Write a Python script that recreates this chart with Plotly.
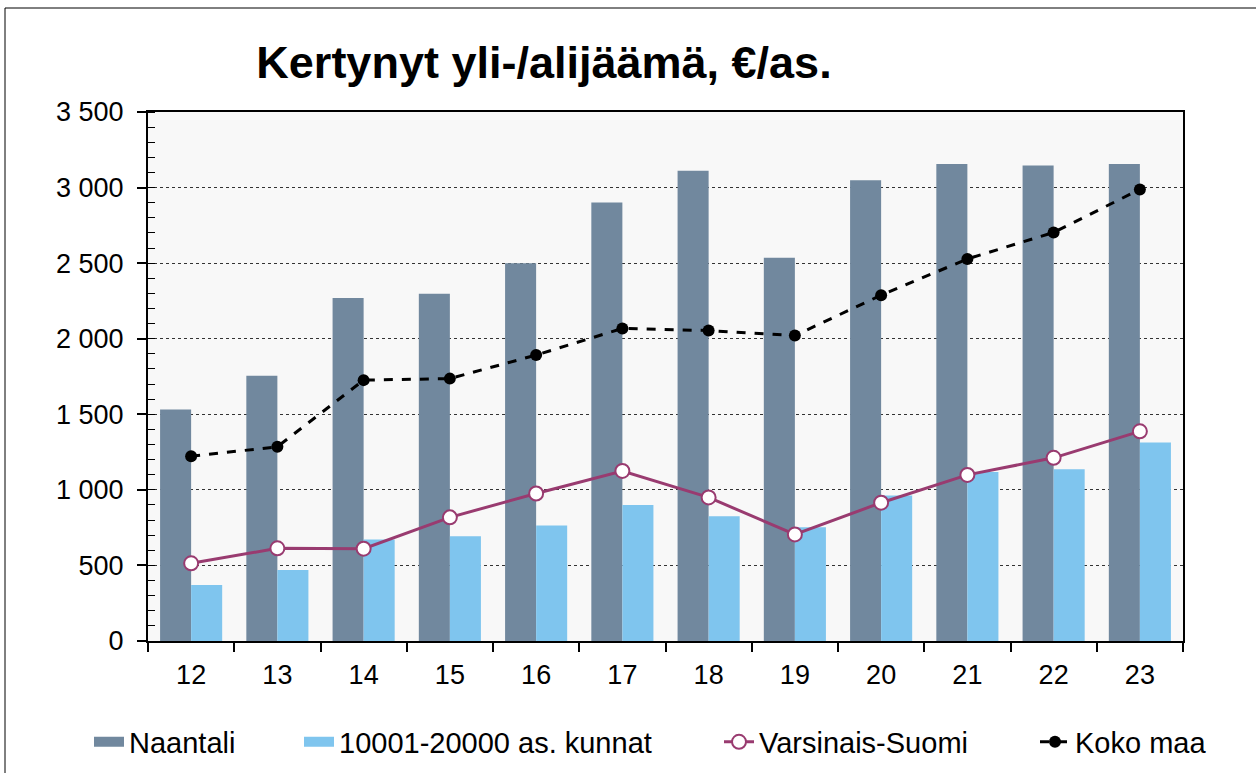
import plotly.graph_objects as go

years = ["12", "13", "14", "15", "16", "17", "18", "19", "20", "21", "22", "23"]
naantali = [1531, 1755, 2269, 2297, 2500, 2901, 3111, 2535, 3049, 3156, 3146, 3156]
kunnat = [370, 469, 672, 693, 764, 899, 825, 752, 962, 1118, 1137, 1314]
varsinais_suomi = [514, 613, 611, 818, 976, 1125, 950, 705, 915, 1099, 1212, 1387]
koko_maa = [1222, 1285, 1726, 1736, 1892, 2068, 2054, 2021, 2288, 2528, 2703, 2988]

W, H = 1256, 773
L, R, T, B = 148, 1183, 112, 641
FONT = "Liberation Sans, Arial, sans-serif"
C_NAANTALI = "#71889e"
C_KUNNAT = "#7fc5ee"
C_VS = "#993b70"

fig = go.Figure()
fig.add_trace(go.Bar(x=years, y=naantali, name="Naantali", showlegend=False,
                     marker=dict(color=C_NAANTALI, line=dict(width=0))))
fig.add_trace(go.Bar(x=years, y=kunnat, name="10001-20000 as. kunnat", showlegend=False,
                     marker=dict(color=C_KUNNAT, line=dict(width=0))))
# legend keys for the bar series (wide rectangles like the original)
fig.add_trace(go.Scatter(x=[None], y=[None], name="Naantali", legend="legend",
                         mode="lines", line=dict(color=C_NAANTALI, width=14)))
fig.add_trace(go.Scatter(x=[None], y=[None], name="10001-20000 as. kunnat",
                         legend="legend2", mode="lines",
                         line=dict(color=C_KUNNAT, width=14)))
fig.add_trace(go.Scatter(x=years, y=varsinais_suomi, name="Varsinais-Suomi",
                         legend="legend3", mode="lines+markers",
                         line=dict(color=C_VS, width=3),
                         marker=dict(symbol="circle", size=14, color="white",
                                     line=dict(color=C_VS, width=2))))
fig.add_trace(go.Scatter(x=years, y=koko_maa, name="Koko maa",
                         legend="legend4", mode="lines+markers",
                         line=dict(color="black", width=3, dash="dash"),
                         marker=dict(symbol="circle", size=12, color="black")))


def px_x(px):
    return (px - L) / (R - L)


def px_y(py):
    return (B - py) / (B - T)


def leg(text_left):
    return dict(orientation="h", xref="container", yref="container",
                x=(text_left - 40) / W, xanchor="left",
                y=1 - 742 / H, yanchor="middle",
                font=dict(size=29, family=FONT, color="black"),
                bgcolor="rgba(0,0,0,0)", itemwidth=30, borderwidth=0)


fig.update_layout(
    width=W, height=H,
    margin=dict(l=L, r=W - R, t=T, b=H - B, pad=0),
    paper_bgcolor="white",
    plot_bgcolor="#f8f8f8",
    barmode="group",
    bargap=0.28,
    bargroupgap=0,
    separators=", ",
    font=dict(family=FONT, color="black", size=27),
    title=dict(text="<b>Kertynyt yli-/alijäämä, €/as.</b>",
               font=dict(size=45, family=FONT, color="black"),
               x=544 / W, xref="container", xanchor="center",
               y=1 - 62 / H, yref="container", yanchor="middle"),
    showlegend=True,
    legend=leg(129),
    legend2=leg(339),
    legend3=leg(759),
    legend4=leg(1075),
    shapes=[
        dict(type="line", xref="paper", yref="paper",
             x0=px_x(5), x1=px_x(5), y0=px_y(8), y1=px_y(800),
             line=dict(color="black", width=1)),
        dict(type="line", xref="paper", yref="paper",
             x0=px_x(5), x1=px_x(1300), y0=px_y(8), y1=px_y(8),
             line=dict(color="black", width=1)),
    ],
)

fig.update_xaxes(type="category", range=[-0.5, len(years) - 0.5], autorange=False,
                 showline=True, linecolor="black", linewidth=2,
                 mirror=True, ticks="outside", ticklen=9, tickwidth=1.5,
                 tickcolor="black", tickson="boundaries", showgrid=False,
                 tickfont=dict(size=27), ticklabelstandoff=9)
fig.update_yaxes(range=[0, 3500], dtick=500, tick0=0, tickformat=",d",
                 showline=True, linecolor="black", linewidth=2, mirror=True,
                 ticks="outside", ticklen=9, tickwidth=1.5, tickcolor="black",
                 showgrid=True, gridcolor="#333333", gridwidth=1, griddash="dot",
                 zeroline=False, tickfont=dict(size=27), ticklabelstandoff=8,
                 minor=dict(dtick=100, ticks="inside", ticklen=7, tickwidth=1,
                            tickcolor="black", showgrid=False))

fig.write_html("out.html", config={"displayModeBar": False},
               post_script="document.body.style.margin='0px';")
